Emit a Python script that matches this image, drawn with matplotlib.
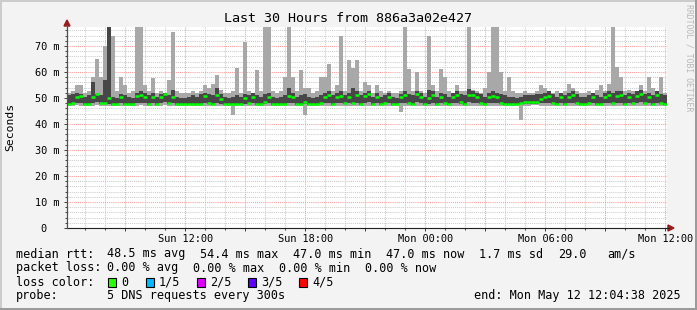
import datetime as dt
import numpy as np
import matplotlib
matplotlib.use("Agg")
import matplotlib.pyplot as plt
import matplotlib.dates as mdates
from matplotlib.ticker import FuncFormatter, MultipleLocator, FixedLocator
from matplotlib.patches import Polygon, Rectangle
from matplotlib.lines import Line2D

# ---------------- data (12-minute steps, milliseconds) ----------------
med = [47.5, 48.0, 50.5, 50.8, 47.6, 47.5, 50.5, 51.5, 48.0, 48.2,
       50.0, 47.8, 47.5, 50.5, 47.5, 47.5, 47.5, 50.8, 51.0, 50.5,
       47.8, 50.5, 47.6, 50.5, 51.5, 48.0, 50.5, 47.8, 47.5, 47.5,
       47.5, 47.5, 47.6, 47.5, 50.8, 48.0, 47.6, 51.3, 49.5, 47.5,
       47.5, 47.5, 47.8, 47.5, 50.0, 48.0, 50.5, 47.8, 47.5, 48.5,
       50.5, 47.6, 47.5, 47.5, 47.8, 50.8, 50.5, 47.5, 47.6, 48.5,
       47.5, 47.5, 47.5, 48.0, 50.5, 51.0, 47.8, 50.5, 50.8, 48.0,
       50.5, 48.0, 51.0, 47.8, 50.8, 51.5, 47.5, 50.3, 47.5, 48.0,
       50.5, 47.6, 47.5, 50.3, 51.0, 48.0, 47.8, 51.5, 50.5, 47.6,
       50.0, 51.0, 47.6, 50.5, 48.0, 47.6, 50.5, 51.0, 48.3, 47.8,
       51.3, 51.0, 50.5, 48.0, 47.6, 50.5, 50.8, 50.5, 48.0, 47.8,
       47.5, 47.6, 47.5, 48.0, 48.5, 48.5, 48.5, 48.5, 49.5, 50.5,
       50.8, 48.0, 47.6, 50.5, 47.8, 50.5, 51.0, 48.0, 47.5, 47.5,
       48.0, 50.5, 47.6, 47.5, 50.5, 51.0, 48.0, 50.8, 51.0, 47.8,
       50.5, 48.0, 50.8, 51.5, 48.0, 50.5, 47.6, 51.0, 48.0, 47.8]

lo = [47.0, 47.0, 47.2, 47.0, 47.0, 46.8, 47.0, 47.2, 47.0, 47.0,
      47.0, 47.0, 46.8, 47.0, 47.0, 47.0, 46.8, 47.0, 47.2, 47.0,
      47.0, 47.0, 47.0, 47.0, 47.2, 47.0, 47.0, 46.8, 47.0, 47.0,
      46.8, 47.0, 47.0, 47.0, 47.0, 47.0, 46.8, 47.0, 47.0, 47.0,
      46.8, 43.5, 47.0, 47.0, 47.0, 47.0, 47.0, 46.8, 47.0, 47.0,
      47.0, 46.8, 47.0, 47.0, 47.0, 47.0, 47.0, 46.8, 47.0, 43.5,
      47.0, 46.8, 47.0, 47.0, 47.0, 47.0, 46.8, 47.0, 47.0, 47.0,
      47.0, 47.0, 47.0, 46.8, 47.0, 47.0, 46.8, 47.0, 47.0, 47.0,
      47.0, 46.8, 47.0, 44.6, 47.0, 47.0, 46.8, 47.0, 47.0, 46.8,
      47.0, 47.0, 46.8, 47.0, 47.0, 46.8, 47.0, 47.0, 47.0, 47.0,
      47.0, 47.0, 47.0, 47.0, 46.8, 47.0, 47.0, 47.0, 47.0, 46.8,
      47.0, 46.8, 47.0, 41.5, 47.0, 47.0, 47.2, 47.2, 47.0, 47.0,
      47.0, 47.0, 46.8, 47.0, 47.0, 47.0, 47.0, 47.0, 46.8, 47.0,
      47.0, 47.0, 46.8, 47.0, 47.0, 47.0, 47.0, 47.0, 47.0, 46.8,
      47.0, 47.0, 47.0, 47.0, 46.8, 47.0, 46.8, 47.0, 47.0, 47.0]

hi = [52.0, 52.5, 55.0, 55.0, 52.0, 52.5, 58.0, 65.0, 58.0, 70.0,
      77.3, 74.0, 52.5, 58.0, 55.0, 52.0, 52.5, 77.3, 77.3, 55.0,
      52.5, 57.5, 52.0, 52.5, 51.5, 57.0, 75.5, 52.5, 52.0, 52.0,
      52.0, 52.5, 52.0, 52.5, 55.0, 54.0, 55.5, 58.8, 53.0, 52.0,
      52.0, 52.5, 61.5, 52.0, 71.7, 52.5, 52.0, 60.8, 52.5, 77.3,
      77.3, 52.5, 52.0, 52.5, 58.0, 77.3, 58.0, 52.5, 60.8, 54.0,
      54.0, 52.0, 52.5, 58.0, 58.0, 63.0, 52.5, 55.0, 74.0, 52.5,
      64.6, 61.5, 64.6, 52.5, 56.0, 55.0, 52.0, 55.0, 52.5, 52.0,
      52.5, 52.0, 52.0, 52.5, 77.3, 61.0, 52.5, 60.0, 52.5, 52.0,
      74.0, 55.0, 52.5, 61.0, 58.0, 52.5, 52.0, 55.0, 52.5, 52.5,
      77.3, 53.0, 52.5, 52.0, 54.0, 60.0, 77.3, 77.3, 60.0, 52.5,
      58.0, 52.5, 52.0, 52.0, 52.5, 52.0, 52.0, 52.5, 55.0, 54.0,
      52.5, 52.0, 52.5, 52.0, 52.5, 55.5, 54.0, 52.5, 52.0, 52.0,
      52.5, 52.0, 53.0, 55.0, 52.5, 55.5, 77.3, 62.0, 58.0, 52.5,
      53.0, 52.5, 52.0, 55.0, 52.5, 58.0, 54.0, 52.5, 58.0, 52.0]

d_lo = [47.4, 47.5, 48.0, 48.2, 47.4, 47.3, 48.0, 48.5, 47.5, 47.6,
        47.8, 47.4, 47.3, 48.0, 47.3, 47.3, 47.3, 48.0, 48.2, 48.0,
        47.4, 48.0, 47.3, 48.0, 48.5, 47.5, 48.0, 47.4, 47.3, 47.3,
        47.3, 47.3, 47.4, 47.3, 48.0, 47.5, 47.4, 48.2, 47.8, 47.3,
        47.3, 47.3, 47.4, 47.3, 47.8, 47.5, 48.0, 47.4, 47.3, 47.6,
        48.0, 47.4, 47.3, 47.3, 47.4, 48.0, 48.0, 47.3, 47.4, 47.6,
        47.3, 47.3, 47.3, 47.5, 48.0, 48.2, 47.4, 48.0, 48.0, 47.5,
        48.0, 47.5, 48.2, 47.4, 48.0, 48.5, 47.3, 48.0, 47.3, 47.5,
        48.0, 47.4, 47.3, 48.0, 48.2, 47.5, 47.4, 48.5, 48.0, 47.4,
        47.8, 48.2, 47.4, 48.0, 47.5, 47.4, 48.0, 48.2, 47.6, 47.4,
        48.5, 48.2, 48.0, 47.5, 47.4, 48.0, 48.0, 48.0, 47.5, 47.4,
        47.3, 47.4, 47.3, 47.5, 47.8, 47.8, 47.8, 47.8, 48.0, 48.0,
        48.2, 47.5, 47.4, 48.0, 47.4, 48.0, 48.2, 47.5, 47.3, 47.3,
        47.5, 48.0, 47.4, 47.3, 48.0, 48.2, 47.5, 48.0, 48.2, 47.4,
        48.0, 47.5, 48.0, 48.5, 47.5, 48.0, 47.4, 48.2, 47.5, 47.4]

d_hi = [51.0, 51.5, 52.0, 51.5, 50.5, 51.0, 56.0, 51.5, 51.0, 57.0,
        77.3, 50.5, 50.0, 51.5, 51.0, 50.5, 50.0, 52.0, 52.5, 52.0,
        51.0, 52.0, 50.5, 51.5, 52.0, 51.0, 53.0, 50.5, 50.0, 50.0,
        50.5, 51.0, 50.5, 51.5, 52.0, 51.5, 51.0, 54.0, 51.5, 50.5,
        50.0, 50.5, 51.0, 50.5, 51.5, 51.0, 52.0, 51.0, 50.5, 51.5,
        52.0, 50.5, 50.0, 50.5, 51.0, 54.0, 52.0, 50.5, 51.0, 51.5,
        50.5, 50.0, 50.5, 51.0, 52.0, 52.5, 51.0, 52.0, 52.5, 51.0,
        52.0, 54.0, 52.5, 51.0, 52.0, 52.5, 50.5, 52.0, 50.5, 51.0,
        52.0, 50.5, 50.0, 51.5, 52.5, 51.5, 51.0, 52.5, 52.0, 50.5,
        53.0, 52.5, 50.5, 52.0, 51.5, 50.5, 52.0, 52.5, 51.5, 51.0,
        53.5, 52.5, 52.0, 51.5, 50.5, 52.0, 52.5, 52.0, 51.5, 51.0,
        50.5, 50.5, 50.0, 50.5, 51.0, 51.0, 51.0, 51.5, 51.5, 52.0,
        52.5, 51.5, 50.5, 52.0, 51.0, 52.0, 52.5, 51.5, 50.5, 50.5,
        51.0, 52.0, 51.0, 50.5, 52.0, 52.5, 52.0, 52.5, 52.5, 51.0,
        52.0, 51.5, 52.5, 53.0, 51.5, 52.0, 51.0, 52.5, 51.5, 51.0]

x_tick_times = ["2025-05-11 12:00", "2025-05-11 18:00", "2025-05-12 00:00",
                "2025-05-12 06:00", "2025-05-12 12:00"]
x_tick_labels = ["Sun 12:00", "Sun 18:00", "Mon 00:00", "Mon 06:00", "Mon 12:00"]
y_ticks = [0, 10, 20, 30, 40, 50, 60, 70]
y_tick_labels = ["0  ", "10 m", "20 m", "30 m", "40 m", "50 m", "60 m", "70 m"]

loss_labels = ["0", "1/5", "2/5", "3/5", "4/5"]
loss_colors = ["#26ff00", "#00b8ff", "#dd00ff", "#5e00ff", "#ff0000"]

title = "Last 30 Hours from 886a3a02e427"
end_text = "end: Mon May 12 12:04:38 2025"

# ---------------- figure ----------------
W, H = 697, 310
MONO = "DejaVu Sans Mono"
plt.rcParams["font.family"] = MONO

fig = plt.figure(figsize=(W / 100, H / 100), dpi=100, facecolor="#f3f3f3")


def fx(x):
    return x / W


def fy(y):
    return 1 - y / H


ax = fig.add_axes([fx(67), fy(228), 600 / W, 201 / H])
ax.set_facecolor("white")

end = dt.datetime(2025, 5, 12, 12, 4, 38)
start = end - dt.timedelta(hours=30)
step = dt.timedelta(minutes=12)
n = len(med)
edges = mdates.date2num([start + step * i for i in range(n + 1)])


def ext(a):
    a = np.asarray(a, dtype=float)
    return np.append(a, a[-1])


ax.fill_between(edges, ext(lo), ext(hi), step="post", color="#a8a8a8",
                linewidth=0, zorder=2)
ax.fill_between(edges, ext(d_lo), ext(d_hi), step="post", color="#474747",
                linewidth=0, zorder=3)
ax.hlines(med, edges[:-1], edges[1:], colors="#00ff00", linewidth=1.8,
          zorder=4, capstyle="butt")

ax.set_xlim(mdates.date2num(start), mdates.date2num(end))
ax.set_ylim(0, 77.3)

# x grid: minor hourly, major (red) 3-hourly, labels 6-hourly
ax.xaxis.set_minor_locator(mdates.HourLocator(interval=1))
ax.xaxis.set_major_locator(mdates.HourLocator(byhour=range(0, 24, 3)))
lab_pos = {round(mdates.date2num(dt.datetime.strptime(s, "%Y-%m-%d %H:%M")), 5): l
           for s, l in zip(x_tick_times, x_tick_labels)}


def xfmt(v, pos):
    return lab_pos.get(round(v, 5), "")


ax.xaxis.set_major_formatter(FuncFormatter(xfmt))

ax.yaxis.set_major_locator(FixedLocator(y_ticks))
ax.set_yticklabels(y_tick_labels)
ax.yaxis.set_minor_locator(MultipleLocator(2))

ax.set_axisbelow(True)
ax.grid(which="minor", color="#cccccc", linestyle=(0, (1, 1)), linewidth=0.75)
ax.grid(which="major", color="#ff9c9c", linestyle=(0, (1, 1)), linewidth=0.75)

ax.tick_params(which="major", length=2, width=0.7, color="#404040",
               labelsize=7.4, pad=2.5)
ax.tick_params(which="minor", length=1.2, width=0.7, color="#404040")
ax.tick_params(axis="y", pad=3.5)

for s in ["top", "right"]:
    ax.spines[s].set_visible(False)
ax.spines["left"].set_visible(False)
ax.spines["bottom"].set_color("#202020")
ax.spines["bottom"].set_linewidth(0.8)

# y axis line extending to arrow, x axis extension, arrows
fig.add_artist(Line2D([fx(67), fx(67)], [fy(228), fy(25)], color="#505050",
                      linewidth=0.9, transform=fig.transFigure))
fig.add_artist(Line2D([fx(667), fx(669)], [fy(228), fy(228)], color="#202020",
                      linewidth=0.8, transform=fig.transFigure))
fig.add_artist(Polygon([[fx(64), fy(26)], [fx(70), fy(26)], [fx(67), fy(20)]],
                       closed=True, color="#9b1c1c", transform=fig.transFigure))
fig.add_artist(Polygon([[fx(668), fy(225)], [fx(668), fy(231)], [fx(674), fy(228)]],
                       closed=True, color="#9b1c1c", transform=fig.transFigure))

# title and side texts
fig.text(fx(348.5), fy(19), title, ha="center", va="center", fontsize=9.6,
         color="#000000")
fig.text(fx(10), fy(127), "Seconds", rotation=90, ha="center", va="center",
         fontsize=8.2)
fig.text(fx(688.5), fy(4), "RRDTOOL / TOBI OETIKER", rotation=270, ha="center",
         va="top", fontsize=5.9, color="#b8b8b8")

# legend rows
FS = 8.5
row1 = [(16, "median rtt:"), (107, "48.5 ms avg"), (200, "54.4 ms max"),
        (293, "47.0 ms min"), (386, "47.0 ms now"), (479, "1.7 ms sd"),
        (558, "29.0"), (607, "am/s")]
row2 = [(16, "packet loss:"), (107, "0.00 % avg"), (193, "0.00 % max"),
        (279, "0.00 % min"), (365, "0.00 % now")]
for xp, s in row1:
    fig.text(fx(xp), fy(254), s, ha="left", va="center", fontsize=FS)
for xp, s in row2:
    fig.text(fx(xp), fy(268), s, ha="left", va="center", fontsize=FS)

fig.text(fx(16), fy(282), "loss color:", ha="left", va="center", fontsize=FS)
sq_x = [108, 146, 197, 248, 299]
for xs, lab, col in zip(sq_x, loss_labels, loss_colors):
    fig.add_artist(Rectangle((fx(xs), fy(286.5)), 8 / W, 9 / H, facecolor=col,
                             edgecolor="black", linewidth=0.8,
                             transform=fig.transFigure))
    fig.text(fx(xs + 13), fy(282), lab, ha="left", va="center", fontsize=FS)

fig.text(fx(16), fy(296), "probe:", ha="left", va="center", fontsize=FS)
fig.text(fx(107), fy(296), "5 DNS requests every 300s", ha="left", va="center",
         fontsize=FS)
fig.text(fx(681), fy(296), end_text, ha="right", va="center", fontsize=FS)

# image border (RRDtool shade)
fig.add_artist(Line2D([0, 1], [fy(0.5), fy(0.5)], color="#cbcbcb", linewidth=1.4,
                      transform=fig.transFigure))
fig.add_artist(Line2D([fx(0.5), fx(0.5)], [0, 1], color="#cbcbcb", linewidth=1.4,
                      transform=fig.transFigure))
fig.add_artist(Line2D([0, 1], [fy(309.3), fy(309.3)], color="#999999",
                      linewidth=1.4, transform=fig.transFigure))
fig.add_artist(Line2D([fx(696.3), fx(696.3)], [0, 1], color="#999999",
                      linewidth=1.4, transform=fig.transFigure))

fig.savefig("out.png", dpi=100, facecolor=fig.get_facecolor())
